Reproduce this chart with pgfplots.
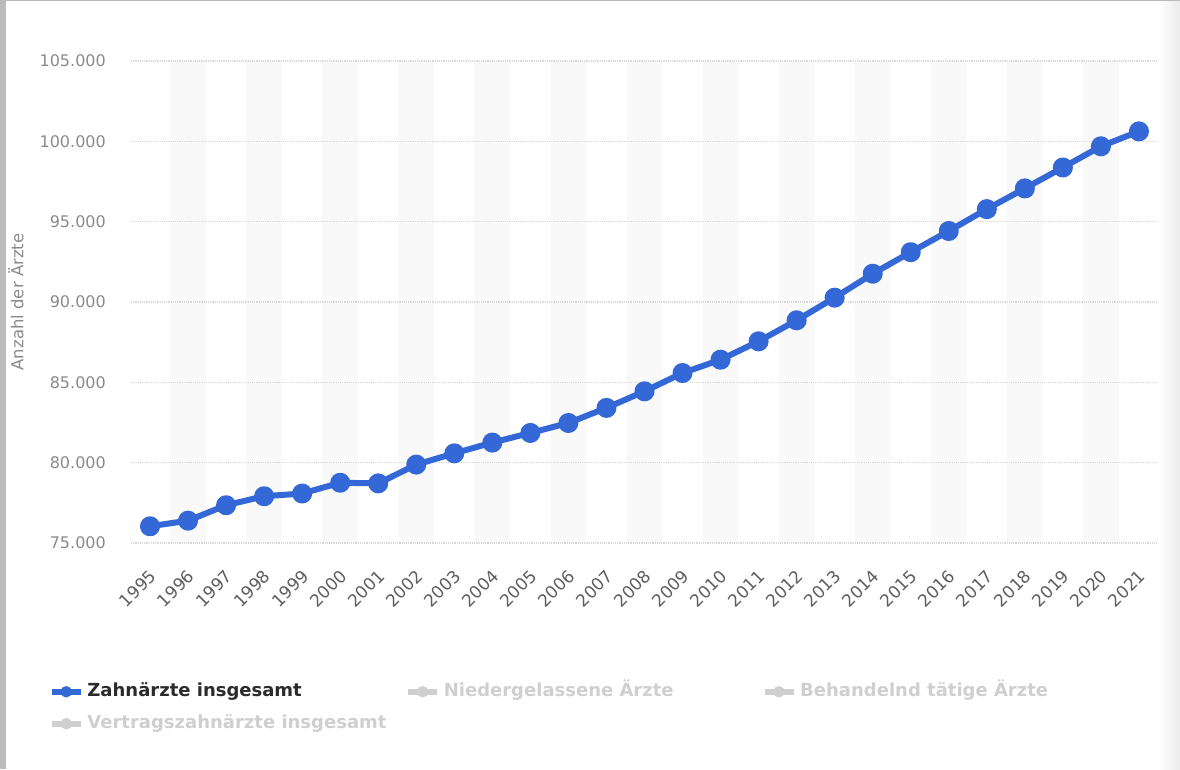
\documentclass[border=0pt]{standalone}
\usepackage{fontspec}
\setmainfont{DejaVu Sans}
\usepackage{pgfplots}
\pgfplotsset{compat=1.18}
\definecolor{lineblue}{HTML}{3468D6}
\definecolor{bandc}{HTML}{F9F9F9}
\definecolor{gridc}{HTML}{D8D8D8}
\definecolor{tickc}{HTML}{8A8A8A}
\definecolor{xtickc}{HTML}{5E5E5E}
\definecolor{inact}{HTML}{CFCFCF}
\definecolor{edgec}{HTML}{BBBBBB}
\definecolor{actc}{HTML}{2B2B2B}

\pgfplotstableread{
x y
0 76040
1 76390
2 77350
3 77910
4 78080
5 78750
6 78710
7 79880
8 80580
9 81250
10 81850
11 82470
12 83410
13 84440
14 85580
15 86410
16 87550
17 88860
18 90270
19 91760
20 93100
21 94420
22 95780
23 97070
24 98370
25 99690
26 100620
}\datatable

\pgfplotsset{
  legicon/.style={legend image code/.code={
      \fill[#1] (0pt,-2.6pt) rectangle (28pt,2.6pt);
      \fill[#1] (14pt,0pt) circle (5.5pt);
      \path (35pt,0pt);}},
}

\begin{document}
\begin{tikzpicture}
\path (0,0) rectangle (1180pt,769pt);
\shade[left color=white, right color=black!8] (1158pt,0) rectangle (1180pt,769pt);
\fill[edgec] (0,0) rectangle (6pt,769pt);
\fill[edgec] (0,767.6pt) rectangle (1180pt,769pt);
\begin{axis}[
  at={(131pt,226pt)}, anchor=south west,
  scale only axis, width=1027pt, height=482pt,
  set layers,
  xmin=-0.5, xmax=26.5, ymin=75000, ymax=105000,
  scaled ticks=false,
  axis line style={draw=none},
  major tick length=0pt,
  ytick={75000,80000,85000,90000,95000,100000,105000},
  yticklabels={75.000,80.000,85.000,90.000,95.000,100.000,105.000},
  xtick={0,...,26},
  xticklabels={1995,1996,1997,1998,1999,2000,2001,2002,2003,2004,2005,2006,2007,2008,2009,2010,2011,2012,2013,2014,2015,2016,2017,2018,2019,2020,2021},
  ymajorgrids,
  grid style={gridc, line width=1.6pt, dash pattern=on 1.1pt off 1.1pt},
  yticklabel style={font=\fontsize{16}{18}\selectfont, text=tickc, anchor=east, inner sep=0pt, xshift=-25pt},
  xticklabel style={font=\fontsize{17}{19}\selectfont, text=xtickc, rotate=45, anchor=north east, inner sep=0pt, xshift=-19pt, yshift=-17pt},
  ylabel={Anzahl der Ärzte},
  every axis y label/.style={at={(axis description cs:0,0.5)}, xshift=-115pt, rotate=90, anchor=center, font=\fontsize{16.5}{18}\selectfont, text=tickc},
  legend columns=3,
  legend cell align=left,
  legend style={draw=none, fill=none, inner sep=0pt, outer sep=0pt,
    at={(-0.0769,-0.291)}, anchor=north west,
    font=\fontsize{18}{20}\selectfont\bfseries,
    nodes={inner sep=0pt, text height=13pt, text depth=4pt},
    row sep=15pt},
]
\addplot[ybar, bar width=0.94, fill=bandc, draw=none, on layer=axis background, forget plot] coordinates {
(1,105000) (3,105000) (5,105000) (7,105000) (9,105000) (11,105000) (13,105000)
(15,105000) (17,105000) (19,105000) (21,105000) (23,105000) (25,105000)};
\addlegendimage{legicon=lineblue}
\addlegendentry{\makebox[321pt][l]{\textcolor{actc}{Zahnärzte insgesamt}}}
\addlegendimage{legicon=inact}
\addlegendentry{\makebox[321pt][l]{\textcolor{inact}{Niedergelassene Ärzte}}}
\addlegendimage{legicon=inact}
\addlegendentry{\textcolor{inact}{Behandelnd tätige Ärzte}}
\addlegendimage{legicon=inact}
\addlegendentry{\makebox[321pt][l]{\textcolor{inact}{Vertragszahnärzte insgesamt}}}
\addplot[lineblue, line width=6pt, line join=round, mark=*, mark size=7pt, mark options={solid}, forget plot] table[x=x,y=y] {\datatable};
\end{axis}
\end{tikzpicture}
\end{document}
